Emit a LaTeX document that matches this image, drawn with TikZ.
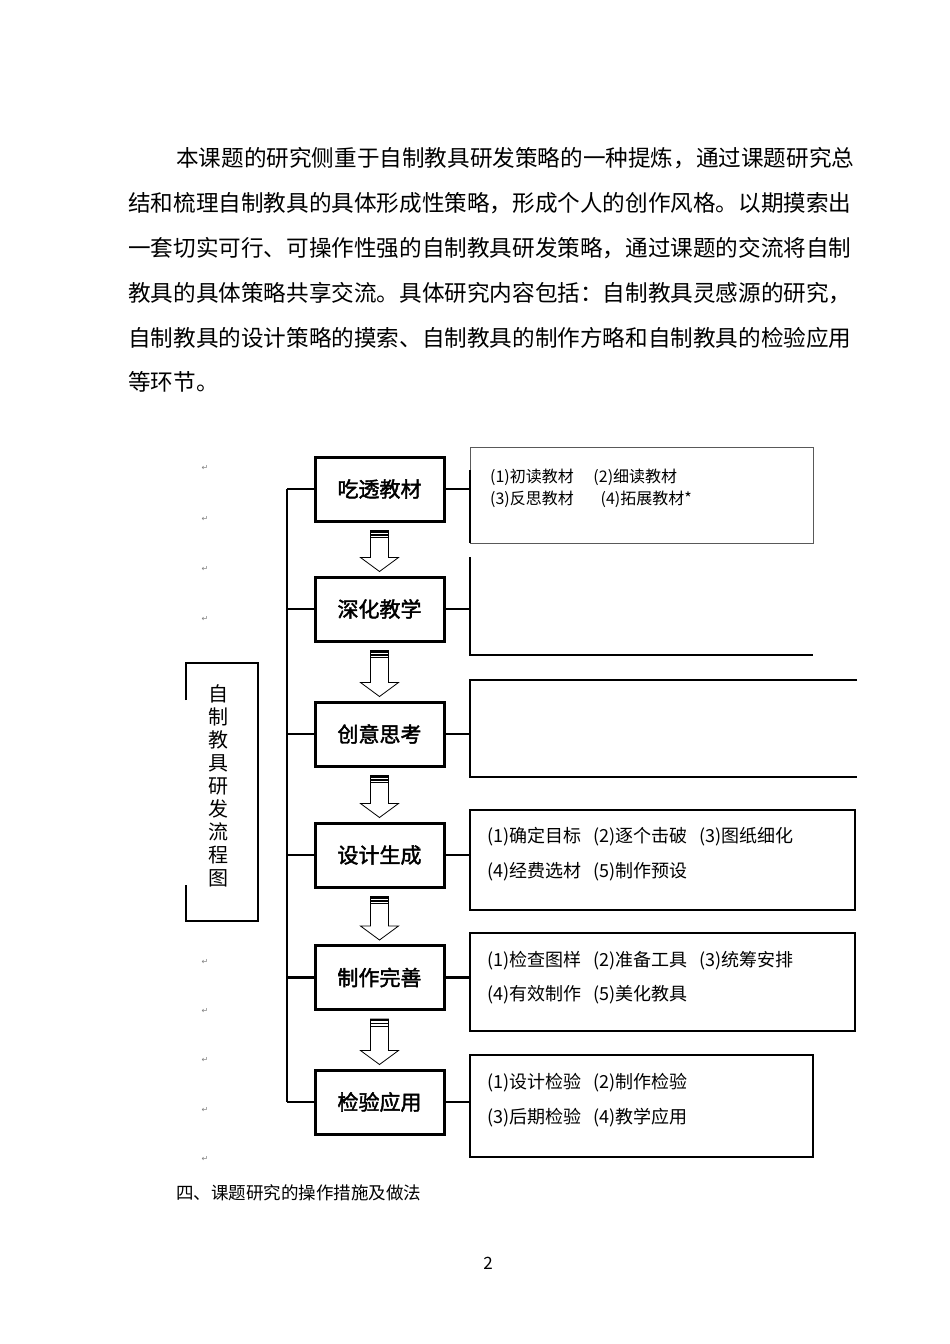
\documentclass[tikz,border=0pt]{standalone}
\usepackage{fontspec}
\usetikzlibrary{calc}
\setmainfont{Noto Sans CJK SC}
\newfontfamily\cjkb[FakeBold=2]{Noto Sans CJK SC}
\newfontfamily\djsans{DejaVu Sans}
\begin{document}
\begin{tikzpicture}[x=1pt,y=-1pt,
 mainbox/.style={draw,line width=3pt,minimum width=129pt,minimum height=64pt,font=\cjkb\fontsize{21}{21}\selectfont,inner sep=0pt},
 item/.style={anchor=west,font=\fontsize{18}{18}\selectfont,inner sep=0pt},
 para/.style={anchor=west,font=\fontsize{22.6}{22}\selectfont,inner sep=0pt},
 pmark/.style={font=\djsans\fontsize{8}{8}\selectfont,text=gray,inner sep=0pt},
 thin/.style={line width=1pt},
 thick/.style={line width=2.5pt}]
\useasboundingbox (0,0) rectangle (950,1344);
% paragraph
\node[para] (p1) at (176,158) {本课题的研究侧重于自制教具研发策略的一种提炼，通过课题研究总};
\node[para] (p2) at (128,203) {结和梳理自制教具的具体形成性策略，形成个人的创作风格。以期摸索出};
\node[para] (p3) at (128,248) {一套切实可行、可操作性强的自制教具研发策略，通过课题的交流将自制};
\node[para] (p4) at (128,293) {教具的具体策略共享交流。具体研究内容包括：自制教具灵感源的研究，};
\node[para] (p5) at (128,338) {自制教具的设计策略的摸索、自制教具的制作方略和自制教具的检验应用};
\node[para] (p6) at (128,382) {等环节。};
% main boxes
\node[mainbox] (b1) at (379.5,489) {吃透教材};
\node[mainbox] (b2) at (379.5,609) {深化教学};
\node[mainbox] (b3) at (379.5,734) {创意思考};
\node[mainbox] (b4) at (379.5,855) {设计生成};
\node[mainbox] (b5) at (379.5,977.5) {制作完善};
\node[mainbox] (b6) at (379.5,1102) {检验应用};
% bus
\coordinate (bt) at (287,489);
\coordinate (bb) at (287,1102);
\draw[thick] (bt) -- (bb);
\foreach \i in {1,...,6}{\draw[thick] (b\i.west) -- (b\i.west -| bt);}
% arrows
\foreach \a/\b in {b1/b2,b2/b3,b3/b4,b4/b5,b5/b6}{
 \path (\a.south) ++(0,8) coordinate (at);
 \path (\b.north) ++(0,-4) coordinate (ab);
 \draw[line width=0.8pt,fill=white] ($(at)+(-9,0)$) -- ($(ab)+(-9,-14)$) -- ($(ab)+(-19,-14)$) -- (ab) -- ($(ab)+(19,-14)$) -- ($(ab)+(9,-14)$) -- ($(at)+(9,0)$) -- cycle;
 \fill ($(at)+(-9,0)$) rectangle ($(at)+(9,2)$);
 \fill ($(at)+(-9,3.5)$) rectangle ($(at)+(9,5)$);
 \fill ($(at)+(-9,6.5)$) rectangle ($(at)+(9,7.5)$);
}
% right boxes
\draw[thin,gray!70!black] (470,447) rectangle (813,543);
\draw[thick] (470,470) -- (470,543);
\coordinate (r1) at (470,489); \draw[thick] (b1.east) -- (r1);
\draw[thick] (470,557) -- (470,655) -- (813,655);
\coordinate (r2) at (470,609); \draw[thick] (b2.east) -- (r2);
\draw[thick] (857,680) -- (470,680) -- (470,777) -- (857,777);
\coordinate (r3) at (470,734); \draw[thick] (b3.east) -- (r3);
\draw[thick] (470,810) rectangle (855,910);
\coordinate (r4) at (470,855); \draw[thick] (b4.east) -- (r4);
\draw[thick] (470,933) rectangle (855,1031);
\coordinate (r5) at (470,977.5); \draw[thick] (b5.east) -- (r5);
\draw[thick] (470,1055) rectangle (813,1157);
\coordinate (r6) at (470,1102); \draw[thick] (b6.east) -- (r6);
% items
\node[item,font=\fontsize{16}{16}\selectfont] (t11) at (490,477) {(1)初读教材\quad\ (2)细读教材};
\node[item,font=\fontsize{16}{16}\selectfont] (t12) at (490,499) {(3)反思教材\quad\ \ \ (4)拓展教材*};
\node[item] (t41) at (487,837) {(1)确定目标\ \ \ (2)逐个击破\ \ \ (3)图纸细化};
\node[item] (t42) at (487,872) {(4)经费选材\ \ \ (5)制作预设};
\node[item] (t51) at (487,961) {(1)检查图样\ \ \ (2)准备工具\ \ \ (3)统筹安排};
\node[item] (t52) at (487,995) {(4)有效制作\ \ \ (5)美化教具};
\node[item] (t61) at (487,1083) {(1)设计检验\ \ \ (2)制作检验};
\node[item] (t62) at (487,1118) {(3)后期检验\ \ \ (4)教学应用};
% vertical box
\draw[thick] (186,700) -- (186,663) -- (258,663) -- (258,921) -- (186,921) -- (186,885);
\node[font=\fontsize{20}{23}\selectfont,align=center,inner sep=0pt] (vt) at (218,786) {自\\制\\教\\具\\研\\发\\流\\程\\图};
% marks
\foreach \y in {468,519,569,619,962,1011,1060,1110,1159}{\node[pmark] at (205,\y) {↵};}
% footer
\node[anchor=west,font=\fontsize{17.5}{17.5}\selectfont,inner sep=0pt] (h4) at (176,1193) {四、课题研究的操作措施及做法};
\node[font=\fontsize{17}{17}\selectfont,inner sep=0pt] (pg) at (488,1263) {2};
\end{tikzpicture}
\end{document}
